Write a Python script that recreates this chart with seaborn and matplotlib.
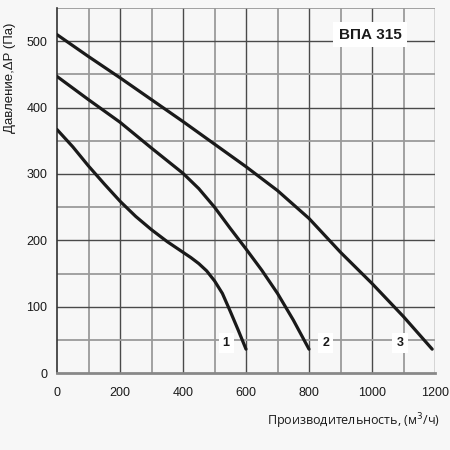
import matplotlib
matplotlib.use("Agg")
import matplotlib.pyplot as plt
import pandas as pd
import seaborn as sns

# Fan curves, ВПА 315 (flow m3/h vs pressure Pa)
flow_1 = [0, 50, 100, 150, 200, 250, 300, 350, 400, 425, 450, 475, 500, 525, 550, 575, 600]
pres_1 = [367, 341, 312, 285, 259, 236, 216, 198, 182, 174, 165, 154, 139, 120, 93, 65, 36]

flow_2 = [0, 100, 200, 300, 400, 450, 500, 550, 600, 650, 700, 750, 800]
pres_2 = [447, 412, 378, 339, 301, 278, 250, 218, 187, 155, 120, 80, 36]

flow_3 = [0, 100, 200, 300, 400, 500, 600, 700, 800, 900, 1000, 1100, 1191]
pres_3 = [510, 477, 445, 412, 379, 345, 311, 275, 233, 182, 135, 85, 36]

curve_names = ["1", "2", "3"]
label_x = [537, 853, 1089]
label_y = [45, 45, 45]

x_ticks = [0, 200, 400, 600, 800, 1000, 1200]
y_ticks = [0, 100, 200, 300, 400, 500]

df = pd.concat([
    pd.DataFrame({"flow": flow_1, "pressure": pres_1, "curve": "1"}),
    pd.DataFrame({"flow": flow_2, "pressure": pres_2, "curve": "2"}),
    pd.DataFrame({"flow": flow_3, "pressure": pres_3, "curve": "3"}),
])

sns.set_style("white")
plt.rcParams["font.family"] = ["Liberation Sans", "DejaVu Sans"]

fig = plt.figure(figsize=(4.5, 4.5), dpi=100, facecolor="#f7f7f7")
ax = fig.add_axes([0.1267, 0.171, 0.84, 0.811])
ax.set_facecolor("#f7f7f7")

# grid: darker lines on even steps, lighter in between
for gx in range(100, 1201, 100):
    major = gx % 200 == 0
    ax.axvline(gx, color="#4a4a4a" if major else "#9a9a9a",
               lw=1.0 if major else 1.3, zorder=1)
for gy in range(50, 551, 50):
    major = gy % 100 == 0
    ax.axhline(gy, color="#4a4a4a" if major else "#9a9a9a",
               lw=1.0 if major else 1.3, zorder=1)

sns.lineplot(data=df, x="flow", y="pressure", hue="curve", units="curve",
             estimator=None, sort=False, palette=["#1a1a1a"] * 3,
             linewidth=2.3, legend=False, ax=ax, zorder=3)
for line in ax.get_lines():
    line.set_solid_joinstyle("round")

for name, lx, ly in zip(curve_names, label_x, label_y):
    ax.text(lx, ly, name, ha="center", va="center", fontsize=9, fontweight="bold",
            color="#1a1a1a", zorder=4,
            bbox=dict(facecolor="white", edgecolor="none", pad=3))

ax.text(994, 510, "ВПА 315", ha="center", va="center", fontsize=11, fontweight="bold",
        color="#1a1a1a", zorder=4,
        bbox=dict(facecolor="white", edgecolor="none", pad=4))

ax.set_xlim(0, 1200)
ax.set_ylim(0, 550)
ax.set_xticks(x_ticks)
ax.set_yticks(y_ticks)
ax.tick_params(axis="both", labelsize=9, colors="#1a1a1a", length=4, width=1,
               direction="out")
ax.tick_params(axis="x", pad=6)
ax.tick_params(axis="y", pad=3)

ax.spines["top"].set_visible(False)
ax.spines["right"].set_visible(False)
ax.spines["left"].set_color("#333333")
ax.spines["left"].set_linewidth(1.2)
ax.spines["bottom"].set_color("#888888")
ax.spines["bottom"].set_linewidth(2)

ax.set_xlabel("")
ax.set_ylabel("")
fig.text(0.022, 1 - 78 / 450, "Давление,ΔP (Па)", rotation=90, ha="center", va="center",
         fontsize=9.5, color="#1a1a1a")
fig.text(0.978, 0.065, "Производительность, (м$^3$/ч)", ha="right", va="center",
         fontsize=9, color="#1a1a1a", family=["Open Sans", "DejaVu Sans"])

fig.savefig("out.png", dpi=100, facecolor=fig.get_facecolor())
